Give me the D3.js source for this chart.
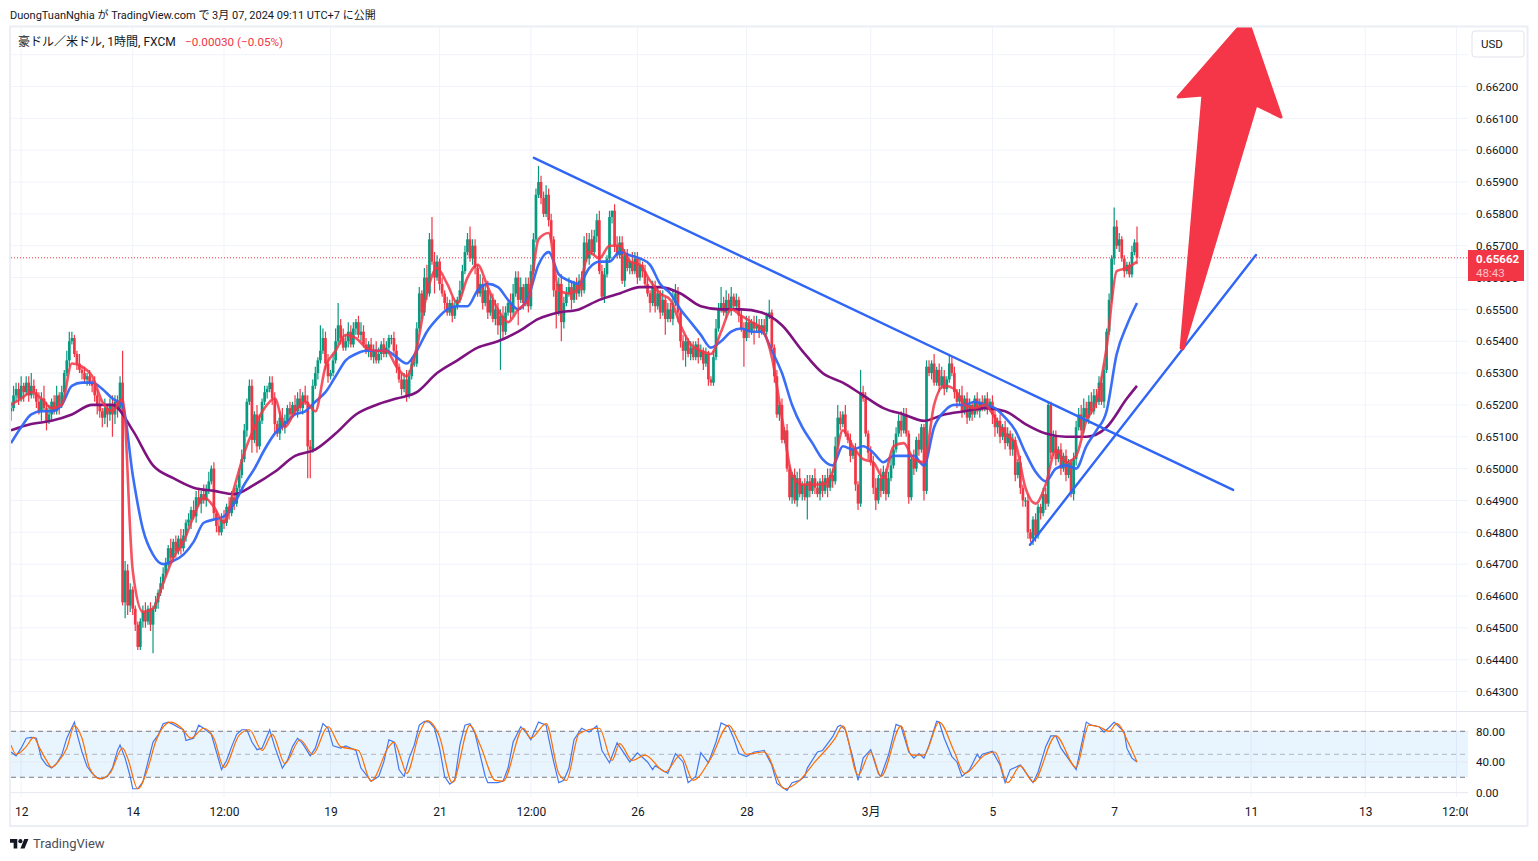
<!DOCTYPE html>
<html>
<head>
<meta charset="utf-8">
<script src="https://d3js.org/d3.v7.min.js"></script>
<style>
body { margin: 0; background: #fff; }
text { font-family: Roboto, "Noto Sans CJK JP", sans-serif; fill: #131722; }
</style>
</head>
<body>
<script>
//prices are kept in pips (0.65662 = 6566.2), one value per hourly bar
var firstOpen = 6518;

var closes = [
6519,6523,6525,6522,6526,6524,6527,6523,6526,6524,
6521,6518,6522,6519,6515,6517,6521,6518,6523,6520,
6524,6530,6534,6540,6541,6536,6533,6531,6530,6528,
6529,6527,6526,6523,6520,6518,6516,6519,6517,6520,
6517,6521,6519,6527,6458,6468,6457,6462,6456,6451,
6444,6452,6455,6452,6456,6451,6456,6458,6461,6464,
6467,6470,6475,6472,6477,6474,6478,6475,6479,6483,
6484,6487,6485,6491,6489,6492,6490,6493,6496,6500,
6486,6482,6480,6484,6483,6488,6486,6491,6489,6494,
6498,6503,6512,6521,6526,6509,6517,6507,6515,6521,
6524,6525,6527,6522,6514,6511,6516,6513,6515,6519,
6517,6520,6518,6522,6519,6523,6521,6507,6506,6526,
6530,6534,6537,6541,6533,6529,6530,6534,6540,6545,
6541,6538,6540,6543,6539,6544,6546,6542,6543,6539,
6537,6539,6535,6537,6534,6536,6539,6536,6538,6541,
6541,6537,6532,6528,6525,6528,6523,6529,6533,6533,
6544,6555,6549,6560,6555,6572,6565,6560,6565,6558,
6555,6552,6549,6552,6548,6551,6553,6556,6562,6568,
6572,6566,6570,6563,6555,6558,6552,6556,6549,6553,
6547,6550,6545,6548,6543,6549,6552,6549,6555,6560,
6553,6557,6552,6558,6551,6562,6572,6586,6590,6585,
6580,6586,6578,6572,6556,6549,6558,6546,6552,6555,
6557,6553,6558,6555,6559,6556,6571,6566,6572,6568,
6573,6578,6562,6554,6561,6566,6579,6581,6570,6567,
6571,6559,6567,6563,6565,6562,6566,6560,6564,6562,
6558,6555,6552,6557,6551,6555,6549,6553,6547,6550,
6547,6552,6555,6549,6540,6537,6540,6536,6538,6535,
6539,6535,6537,6533,6536,6528,6527,6535,6544,6550,
6552,6549,6553,6550,6554,6551,6553,6548,6544,6541,
6546,6543,6546,6544,6545,6543,6545,6543,6548,6549,
6538,6529,6517,6520,6509,6512,6500,6491,6498,6490,
6497,6492,6495,6491,6496,6493,6497,6494,6492,6496,
6493,6497,6494,6498,6496,6507,6516,6514,6517,6511,
6509,6504,6506,6495,6489,6524,6522,6511,6505,6502,
6494,6490,6497,6493,6499,6492,6497,6501,6506,6511,
6515,6512,6517,6511,6491,6503,6500,6509,6506,6513,
6493,6532,6530,6533,6527,6531,6526,6529,6525,6528,
6533,6530,6524,6521,6523,6518,6522,6516,6520,6517,
6522,6518,6521,6519,6522,6519,6521,6517,6513,6515,
6510,6513,6508,6511,6506,6509,6498,6502,6494,6490,
6490,6480,6478,6484,6479,6488,6486,6492,6489,6520,
6505,6510,6503,6506,6500,6504,6498,6502,6492,6503,
6513,6517,6512,6519,6516,6521,6518,6523,6521,6527,
6521,6531,6543,6553,6566,6576,6570,6572,6566,6562,
6564,6561,6568,6571,6566.2];

//wick lengths above the body, in pips
var upperWicks = [
2,3,2,2,3,1,2,2,4,2,
1,3,2,4,2,3,1,2,3,1,
2,1,3,3,2,1,1,3,1,2,
1,2,1,3,2,2,1,3,1,2,
3,2,2,2,10,3,2,2,1,1,
1,1,2,3,1,2,1,2,1,2,
2,2,1,3,1,2,1,3,2,1,
2,1,3,2,3,1,3,2,3,1,
2,1,2,2,3,1,3,2,3,1,
2,3,2,1,2,2,1,3,2,1,
2,1,2,2,2,1,2,3,2,1,
2,1,3,2,3,1,3,2,2,2,
2,1,8,3,2,3,1,2,4,7,
2,3,2,3,2,2,1,2,3,2,
2,1,2,2,3,2,1,2,2,1,
1,2,2,1,2,2,3,2,2,3,
2,2,1,3,4,2,7,3,2,1,
2,1,2,1,2,2,1,3,2,2,
2,4,2,2,1,3,2,2,3,2,
2,3,2,2,3,2,1,3,3,2,
2,3,1,2,2,2,2,2,5,2,
2,3,2,2,1,2,2,3,2,2,
3,2,1,2,2,3,2,3,2,3,
2,2,3,2,2,1,2,0,2,3,
2,2,2,2,1,3,2,2,2,1,
2,2,1,2,2,2,1,3,1,2,
2,4,3,2,1,2,2,1,2,2,
1,2,2,1,2,1,1,2,3,2,
5,2,3,2,3,1,2,1,2,2,
2,2,1,2,3,2,2,2,1,4,
1,1,2,1,2,1,2,1,1,2,
2,3,1,2,2,2,1,3,2,1,
2,1,3,2,2,3,4,2,1,3,
1,2,1,2,1,7,2,2,1,2,
2,3,1,3,2,1,2,3,3,2,
2,3,2,2,1,1,3,1,2,1,
1,2,2,1,3,1,2,3,2,1,
3,2,2,1,2,3,1,2,2,1,
1,2,1,2,1,2,1,2,2,1,
2,1,2,2,1,2,1,1,2,1,
1,2,1,1,2,1,1,2,2,1,
1,2,2,1,2,1,2,1,1,2,
2,2,3,3,2,2,3,2,2,2,
2,2,1,2,1,6,2,2,1,1,
1,1,2,1,5];

//wick lengths below the body, in pips
var lowerWicks = [
3,1,2,2,1,3,1,2,1,2,
2,1,3,1,3,1,2,1,1,3,
1,2,1,2,1,1,2,1,2,1,
2,1,2,2,3,2,3,2,4,2,
7,3,3,1,1,5,3,2,2,2,
1,1,2,2,1,2,9,1,2,1,
2,1,1,2,1,2,1,2,1,2,
1,3,1,2,1,3,1,2,1,1,
2,2,1,1,2,1,2,1,2,1,
1,1,1,2,1,4,1,2,1,1,
1,2,1,2,3,1,2,1,2,1,
2,1,1,2,1,2,1,10,9,1,
1,2,1,1,2,2,1,1,1,1,
2,1,1,2,1,1,2,1,2,1,
1,2,1,2,1,1,2,1,1,2,
2,1,2,1,2,1,2,1,1,1,
1,1,2,1,2,1,1,5,1,2,
1,2,1,1,2,1,1,1,1,1,
1,1,2,2,1,1,2,1,2,1,
1,2,3,14,2,1,1,2,1,1,
8,1,2,1,2,1,1,1,1,2,
1,1,2,1,2,5,1,6,2,1,
1,3,1,2,1,2,1,1,2,1,
1,2,1,1,2,1,1,2,2,1,
1,1,2,1,2,1,1,2,1,2,
1,1,3,1,2,1,2,1,5,1,
1,2,1,3,2,3,5,1,2,1,
1,2,1,2,1,2,1,1,1,1,
1,1,2,1,2,1,1,2,1,9,
1,2,1,5,1,2,1,1,1,1,
1,2,1,2,1,1,1,1,2,1,
2,1,2,1,7,2,1,2,1,2,
2,1,3,1,2,1,1,2,1,1,
1,2,1,2,2,1,1,1,2,1,
2,3,1,2,1,2,1,1,1,1,
1,2,1,1,2,1,2,1,2,1,
3,1,1,2,1,1,2,1,2,1,
1,1,2,2,1,2,1,2,1,2,
1,1,2,1,1,2,1,3,3,2,
2,1,2,1,2,2,2,1,2,2,
2,2,1,2,2,1,2,1,2,1,
2,1,2,1,2,1,2,1,1,2,
2,1,2,1,1,2,1,1,2,1,
1,2,1,1,1,2,1,2,1,2,
1,1,1,1,2];

//moving averages, read every 4 bars (purple every 8)
var redMa = [
6520,6522,6524,6522,6519,6520,6533,6532,6529,6521,6518,6522,6468,6455,6456,6464,
6472,6477,6485,6491,6488,6483,6494,6505,6513,6519,6522,6513,6518,6521,6518,6532,
6537,6542,6541,6538,6537,6537,6532,6529,6538,6555,6563,6558,6552,6560,6564,6557,
6550,6546,6550,6553,6572,6574,6556,6555,6557,6568,6566,6570,6570,6565,6564,6559,
6555,6553,6545,6539,6537,6536,6543,6550,6548,6546,6544,6535,6516,6498,6495,6495,
6495,6499,6512,6507,6503,6502,6497,6507,6508,6503,6502,6520,6526,6525,6520,6519,
6520,6516,6511,6508,6494,6489,6495,6506,6502,6504,6515,6521,6538,6562,6563,6565];

var blueMa = [
6508,6513,6517,6518,6518,6520,6526,6527,6527,6525,6522,6520,6498,6481,6473,6470,
6471,6473,6477,6483,6484,6485,6489,6495,6500,6506,6511,6514,6517,6518,6521,6524,
6529,6534,6536,6537,6537,6537,6535,6533,6537,6543,6547,6550,6551,6551,6556,6558,
6557,6553,6550,6554,6564,6568,6561,6559,6558,6563,6565,6565,6568,6567,6566,6564,
6558,6555,6550,6546,6542,6538,6540,6543,6544,6543,6543,6537,6530,6520,6513,6508,
6503,6501,6507,6506,6507,6505,6502,6504,6504,6504,6501,6513,6518,6520,6520,6521,
6520,6519,6516,6512,6505,6499,6496,6500,6501,6500,6507,6512,6518,6536,6545,6552];

var purpleBars = d3.range(0, 444, 8).concat([444]);
var purpleMa = [
6512,6514,6515,6517,6520,6520,6512,6501,6497,6494,6493,6492,6495,6499,6504,6506,
6511,6517,6520,6522,6524,6530,6534,6538,6540,6543,6547,6549,6550,6553,6555,6557,
6557,6555,6551,6550,6550,6549,6545,6537,6530,6527,6523,6519,6517,6515,6517,6518,
6519,6518,6514,6511,6510,6510,6513,6522,6526];

//stochastic %K and %D, read at their turning points
var kBars = [0,2,4,6,8,10,12,14,16,18,20,22,25,26,28,30,32,34,36,38,40,42,43,45,47,48,50,52,54,56,58,60,62,64,66,68,69,72,74,76,79,81,83,85,87,89,91,93,95,97,99,102,104,107,109,111,113,115,118,120,123,125,127,130,132,136,138,142,145,147,149,151,153,155,157,159,161,163,165,167,169,171,173,175,177,179,181,183,185,187,188,192,194,196,198,201,203,205,208,211,212,214,216,218,220,222,225,228,231,233,236,239,241,244,247,251,253,254,259,262,265,267,270,272,275,278,280,283,285,287,290,293,297,300,302,306,308,311,313,314,318,320,322,324,326,327,329,332,334,336,339,342,343,346,349,351,354,356,358,360,362,365,366,368,371,373,375,378,381,382,383,387,390,392,394,398,403,405,408,410,412,414,420,424,426,429,431,433,435,439,440,442,444];
var kValues = [53,48,58,71,72,71,45,36,32,38,49,71,92,77,53,34,25,19.5,18,21,32,55,62,45,21,5,5,14,40,66,75,90,92,89,85,82,68,71,88,84,76,53,30,42,60,76,82,82,66,56,58,82,60,32,42,60,71,64,48,58,90,84,61,58,61,55,32,15,21,40,69,66,30,21,45,62,88,93,92,84,58,21,11,16,62,88,90,77,49,21,13,13,15,32,66,86,79,69,92,88,71,40,13,16,32,69,84,79,87,55,39,65,55,40,52,40,30,35,25,51,40,13,21,52,39,66,91,86,71,51,47,53,55,36,12,3,13,16,21,32,53,55,64,73,86,88,82,45,16,45,56,25,21,49,89,86,53,45,51,45,62,93,92,71,47,40,21,30,50,45,50,54,36,13,30,36,13,27,60,74,74,58,30,92,88,86,79,85,92,79,58,45,40];

var dBars = [0,2,6,9,11,14,16,19,22,25,28,31,35,39,44,46,50,54,57,63,67,71,76,80,84,90,94,99,103,108,114,119,125,130,137,142,149,151,154,156,161,164,169,174,181,185,191,194,202,205,211,216,219,224,232,237,240,245,250,258,264,269,276,283,287,290,297,305,311,317,325,328,334,339,343,351,355,360,366,372,376,384,388,393,398,403,412,420,425,429,433,436,441,444];
var dValues = [62,50,60,72,60,42,33,42,58,87,71,32,18,25,58,45,5,32,66,92,85,71,84,71,33,75,82,55,76,38,69,50,86,60,55,15,60,66,42,25,77,94,73,13,88,62,16,15,84,71,90,25,16,77,84,42,64,42,49,27,49,16,45,88,66,50,53,5,16,40,71,87,23,53,21,87,49,49,92,53,25,49,53,13,35,14,74,33,88,86,80,90,62,40];

//axis ticks and labels
var priceTicks = [6620,6610,6600,6590,6580,6570,6560,6550,6540,6530,6520,6510,6500,6490,6480,6470,6460,6450,6440,6430];
var stochTicks = [80,40,0];
var dayBars = [4,48,84,126,169,205,247,290,339,387,435,489,534,570];
var dayLabels = ["12","14","12:00","19","21","12:00","26","28","3月","5","7","11","13","12:00"];

//drawings as [bar, pips]
var downTrend = [[206.2,6597.6],[481.9,6493.3]];
var upTrend = [[401.8,6476.1],[490.9,6567.1]];
var arrowShape = [[461.4,6537.9],[470,6617.3],[460.2,6616.7],[487.4,6641.5],[500.8,6610.4],[490.9,6614.2],[462.1,6537.6]];

var w = 1538, h = 861;
var paneLeft = 11, paneRight = 1468, paneTop = 27, paneBottom = 711.5, stochBottom = 797;
var green = "#089981", red = "#f23645", blue = "#2f66f6", purple = "#7e1380";

window.onload = function(){

    var svg = d3.select("body")
        .append("svg")
        .attr("width", w)
        .attr("height", h)
        .attr("class", "container");

    //scales
    var x = d3.scaleLinear().domain([0, 444]).range([11, 1137]);
    var y = d3.scaleLinear().domain([6430, 6620]).range([691.5, 86.5]);
    var ys = d3.scaleLinear().domain([0, 80]).range([792.6, 731.3]);

    var defs = svg.append("defs");
    defs.append("clipPath").attr("id", "mainClip").append("rect")
        .attr("x", paneLeft).attr("y", paneTop)
        .attr("width", paneRight - paneLeft).attr("height", paneBottom - paneTop);
    defs.append("clipPath").attr("id", "timeClip").append("rect")
        .attr("x", 0).attr("y", 798)
        .attr("width", paneRight).attr("height", 26);

    //vertical grid through both panes
    svg.append("g").selectAll("line")
        .data(dayBars)
        .enter().append("line")
        .attr("x1", function(d){ return x(d); })
        .attr("x2", function(d){ return x(d); })
        .attr("y1", paneTop)
        .attr("y2", stochBottom)
        .attr("stroke", "#f0f3fa");

    //horizontal grid, top line has no label
    svg.append("g").selectAll("line")
        .data(priceTicks.concat([6630]))
        .enter().append("line")
        .attr("x1", paneLeft)
        .attr("x2", paneRight)
        .attr("y1", function(d){ return y(d); })
        .attr("y2", function(d){ return y(d); })
        .attr("stroke", "#f0f3fa");

    //stochastic band
    svg.append("rect")
        .attr("x", paneLeft)
        .attr("y", ys(80))
        .attr("width", paneRight - paneLeft)
        .attr("height", ys(20) - ys(80))
        .attr("fill", "rgba(33,150,243,0.1)");

    svg.append("g").selectAll("line")
        .data(stochTicks)
        .enter().append("line")
        .attr("x1", paneLeft)
        .attr("x2", paneRight)
        .attr("y1", function(d){ return ys(d); })
        .attr("y2", function(d){ return ys(d); })
        .attr("stroke", "#e6e9f0");

    svg.append("g").selectAll("line")
        .data([80, 50, 20])
        .enter().append("line")
        .attr("x1", paneLeft)
        .attr("x2", paneRight)
        .attr("y1", function(d){ return ys(d); })
        .attr("y2", function(d){ return ys(d); })
        .attr("stroke", function(d){ return d == 50 ? "#b2b5be" : "#787b86"; })
        .attr("stroke-dasharray", "5 4");

    //last price line
    svg.append("line")
        .attr("x1", paneLeft)
        .attr("x2", paneRight)
        .attr("y1", y(closes[closes.length - 1]))
        .attr("y2", y(closes[closes.length - 1]))
        .attr("stroke", red)
        .attr("stroke-dasharray", "1 2");

    //candles, open is the previous close
    var bars = closes.map(function(c, i){
        var o = i == 0 ? firstOpen : closes[i - 1];
        return {
            i: i,
            o: o,
            c: c,
            h: Math.max(o, c) + upperWicks[i],
            l: Math.min(o, c) - lowerWicks[i]
        };
    });

    var main = svg.append("g").attr("clip-path", "url(#mainClip)");

    var candle = main.append("g").selectAll("g")
        .data(bars)
        .enter().append("g")
        .attr("fill", function(d){ return d.c >= d.o ? green : red; })
        .attr("stroke", function(d){ return d.c >= d.o ? green : red; });

    candle.append("line")
        .attr("x1", function(d){ return x(d.i); })
        .attr("x2", function(d){ return x(d.i); })
        .attr("y1", function(d){ return y(d.h); })
        .attr("y2", function(d){ return y(d.l); })
        .attr("stroke-width", 1.2);

    candle.append("rect")
        .attr("x", function(d){ return x(d.i) - 1.35; })
        .attr("y", function(d){ return y(Math.max(d.o, d.c)); })
        .attr("width", 2.7)
        .attr("height", function(d){ return Math.max(1, y(Math.min(d.o, d.c)) - y(Math.max(d.o, d.c))); })
        .attr("stroke", "none");

    //moving averages
    function drawMa(values, barOf, color, opacity){
        var line = d3.line()
            .x(function(d, i){ return x(barOf(i)); })
            .y(function(d){ return y(d); })
            .curve(d3.curveMonotoneX);
        main.append("path")
            .datum(values)
            .attr("d", line)
            .attr("fill", "none")
            .attr("stroke", color)
            .attr("stroke-width", 2.6)
            .attr("opacity", opacity);
    }
    drawMa(purpleMa, function(i){ return purpleBars[i]; }, purple, 1);
    drawMa(blueMa, function(i){ return i * 4; }, blue, 0.95);
    drawMa(redMa, function(i){ return i * 4; }, red, 0.85);

    //trend lines and the arrow
    var drawing = d3.line()
        .x(function(d){ return x(d[0]); })
        .y(function(d){ return y(d[1]); });

    [downTrend, upTrend].forEach(function(t){
        main.append("path")
            .attr("d", drawing(t))
            .attr("fill", "none")
            .attr("stroke", blue)
            .attr("stroke-width", 2.4)
            .attr("stroke-linecap", "round");
    });

    main.append("path")
        .attr("d", drawing(arrowShape) + "Z")
        .attr("fill", "#f43648")
        .attr("stroke", "#f43648")
        .attr("stroke-width", 3)
        .attr("stroke-linejoin", "round");

    //stochastic lines
    function drawStoch(stepBars, values, color, curve){
        var line = d3.line()
            .x(function(d, i){ return x(stepBars[i]); })
            .y(function(d){ return ys(d); })
            .curve(curve);
        svg.append("path")
            .datum(values)
            .attr("d", line)
            .attr("fill", "none")
            .attr("stroke", color)
            .attr("stroke-width", 1.2);
    }
    drawStoch(kBars, kValues, "#4278f0", d3.curveLinear);
    drawStoch(dBars, dValues, "#ff6d00", d3.curveMonotoneX);

    //frame and pane divider
    svg.append("rect")
        .attr("x", 10)
        .attr("y", 26.5)
        .attr("width", 1517.5)
        .attr("height", 799.5)
        .attr("fill", "none")
        .attr("stroke", "#eceef5")
        .attr("stroke-width", 2);

    svg.append("line")
        .attr("x1", 10)
        .attr("x2", 1527)
        .attr("y1", paneBottom)
        .attr("y2", paneBottom)
        .attr("stroke", "#e0e3eb");

    //price axis
    var priceAxis = d3.axisRight(y)
        .tickValues(priceTicks)
        .tickSize(0)
        .tickPadding(0)
        .tickFormat(function(d){ return (d / 10000).toFixed(5); });

    svg.append("g")
        .attr("transform", "translate(1476,0)")
        .call(priceAxis)
        .call(function(g){ g.select(".domain").remove(); })
        .selectAll("text")
        .attr("font-size", 11.6);

    var stochAxis = d3.axisRight(ys)
        .tickValues(stochTicks)
        .tickSize(0)
        .tickPadding(0)
        .tickFormat(function(d){ return d.toFixed(2); });

    svg.append("g")
        .attr("transform", "translate(1476,0)")
        .call(stochAxis)
        .call(function(g){ g.select(".domain").remove(); })
        .selectAll("text")
        .attr("font-size", 11.6);

    //time axis, the last label is cut by the price scale
    var timeAxis = d3.axisBottom(x)
        .tickValues(dayBars)
        .tickSize(0)
        .tickPadding(0)
        .tickFormat(function(d, i){ return dayLabels[i]; });

    svg.append("g")
        .attr("clip-path", "url(#timeClip)")
        .append("g")
        .attr("transform", "translate(0,807)")
        .call(timeAxis)
        .call(function(g){ g.select(".domain").remove(); })
        .selectAll("text")
        .attr("font-size", 12);

    //last price tag
    var lastPrice = closes[closes.length - 1];
    svg.append("rect")
        .attr("x", 1468)
        .attr("y", 250)
        .attr("width", 56)
        .attr("height", 31)
        .attr("fill", red);

    svg.append("text")
        .attr("x", 1476)
        .attr("y", 263)
        .attr("font-size", 11.6)
        .attr("font-weight", "bold")
        .style("fill", "#fff")
        .text((lastPrice / 10000).toFixed(5));

    svg.append("text")
        .attr("x", 1476)
        .attr("y", 277)
        .attr("font-size", 11.6)
        .style("fill", "#fcc1c7")
        .text("48:43");

    //currency button
    svg.append("rect")
        .attr("x", 1472)
        .attr("y", 31)
        .attr("width", 52)
        .attr("height", 26)
        .attr("rx", 3)
        .attr("fill", "#fff")
        .attr("stroke", "#e0e3eb");

    svg.append("text")
        .attr("x", 1481)
        .attr("y", 48)
        .attr("font-size", 11.5)
        .text("USD");

    //header texts
    svg.append("text")
        .attr("x", 10)
        .attr("y", 19)
        .attr("font-size", 11)
        .text("DuongTuanNghia が TradingView.com で 3月 07, 2024 09:11 UTC+7 に公開");

    svg.append("text")
        .attr("x", 18)
        .attr("y", 46)
        .attr("font-size", 12)
        .text("豪ドル／米ドル, 1時間, FXCM");

    svg.append("text")
        .attr("x", 185)
        .attr("y", 46)
        .attr("font-size", 11.7)
        .style("fill", red)
        .text("−0.00030 (−0.05%)");

    //logo and footer
    var logo = svg.append("g")
        .attr("transform", "translate(10,837) scale(0.52)")
        .attr("fill", "#131722");
    logo.append("path").attr("d", "M14 22H7V11H0V4h14v18zM28 22h-8l7.5-18h8L28 22z");
    logo.append("circle").attr("cx", 20).attr("cy", 8).attr("r", 4);

    svg.append("text")
        .attr("x", 33)
        .attr("y", 848)
        .attr("font-size", 13)
        .style("fill", "#4a4e59")
        .text("TradingView");
};
</script>
</body>
</html>
